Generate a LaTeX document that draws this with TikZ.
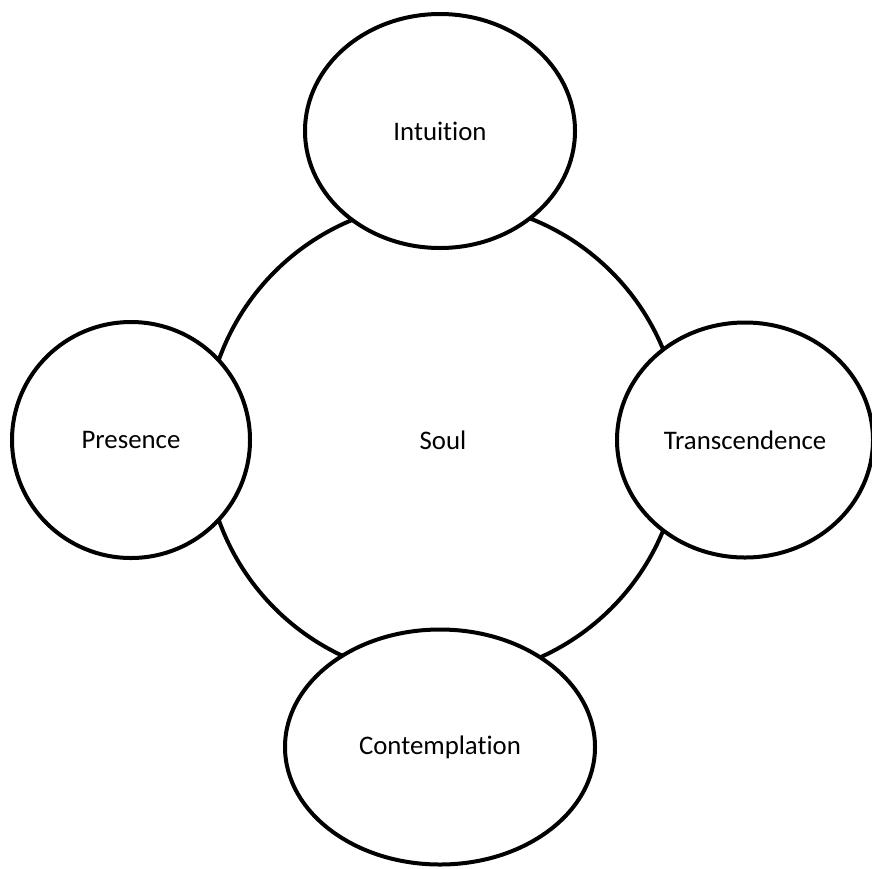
\documentclass[tikz,border=0pt]{standalone}
\usepackage{fontspec}
\setmainfont{Carlito}[Ligatures=NoCommon]
\usepackage{tikz}
\usetikzlibrary{shapes.geometric}

\begin{document}
\begin{tikzpicture}
          [x=1pt, y=-1pt,
           every node/.style={draw, ellipse, line width=4pt, fill=white, inner sep=0pt,
             font=\fontsize{26.8}{32}\selectfont}]
          \useasboundingbox (0,0) rectangle (872,868);
          \node (soul) [circle, minimum size=476pt] at (443,440) {Soul};
          \node (intuition) [minimum width=270pt, minimum height=234pt] at (440,131) {Intuition};
          \node (presence) [minimum width=238pt, minimum height=236pt] at (131,440) {Presence};
          \node (transcendence) [minimum width=256pt, minimum height=235pt] at (745,440) {Transcendence};
          \node (contemplation) [minimum width=310pt, minimum height=235pt] at (440,747) {Contemplation};

        \end{tikzpicture}
\end{document}
